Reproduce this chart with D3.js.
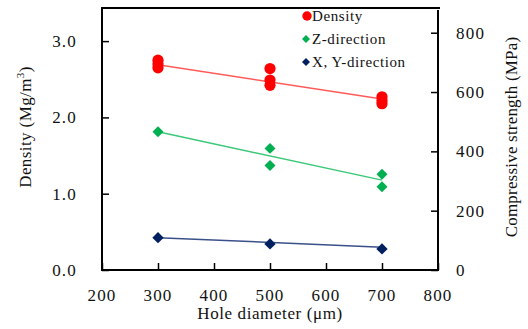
<!DOCTYPE html>
<html><head><meta charset="utf-8">
<script src="https://cdnjs.cloudflare.com/ajax/libs/d3/7.8.5/d3.min.js"></script>
<style>body{margin:0;background:#fff}svg{display:block}text{font-family:"Liberation Serif","Times New Roman",serif;fill:#111}</style>
</head><body><svg id="c" width="528" height="329"></svg>
<script>
// Data
const holeDiameters = [300, 500, 700];
const densityPts = [[300,2.75],[300,2.70],[300,2.65],[500,2.64],[500,2.49],[500,2.42],[700,2.27],[700,2.22],[700,2.18]];
const zDirPts = [[300,466],[500,410],[500,352],[700,323],[700,281]];
const xyDirPts = [[300,109],[500,88],[700,71]];
const densityFit = [[300,2.69],[700,2.24]];
const zDirFit = [[300,466],[700,303]];
const xyDirFit = [[300,109],[700,77]];
const xTicks = [200,300,400,500,600,700,800];
const yLeftTicks = [0,1,2,3];
const yRightTicks = [0,200,400,600,800];
const legendLabels = ["Density","Z-direction","X, Y-direction"];

const svg = d3.select("#c");
const L=102,R=438,T=8,B=270;
const x = d3.scaleLinear().domain([200,800]).range([L,R]);
const yL = d3.scaleLinear().domain([0,3.434]).range([B,T]);
const yR = d3.scaleLinear().domain([0,883.3]).range([B,T]);

const red="#ff0000", green="#00b050", navy="#002060";
const redL="#ff5a5a", greenL="#3cc878", navyL="#3a5088";

// axes with inward ticks
const ax = svg.append("g").attr("transform",`translate(0,${B})`).call(d3.axisTop(x).tickValues(xTicks).tickSize(7).tickFormat(""));
const ayl = svg.append("g").attr("transform",`translate(${L},0)`).call(d3.axisRight(yL).tickValues(yLeftTicks).tickSize(7).tickFormat(""));
const ayr = svg.append("g").attr("transform",`translate(${R},0)`).call(d3.axisLeft(yR).tickValues(yRightTicks).tickSize(7).tickFormat(""));
[ax,ayl,ayr].forEach(g=>{g.selectAll(".domain").remove();g.selectAll("line").attr("stroke","#000").attr("stroke-width",1.5);});

// frame
svg.append("line").attr("x1",L-1).attr("x2",R+2).attr("y1",T).attr("y2",T).attr("stroke","#000").attr("stroke-width",2);
svg.append("line").attr("x1",L).attr("x2",L).attr("y1",T).attr("y2",B+1).attr("stroke","#000").attr("stroke-width",2);
svg.append("line").attr("x1",R).attr("x2",R).attr("y1",T+2).attr("y2",B+1).attr("stroke","#000").attr("stroke-width",2);
svg.append("line").attr("x1",L-1).attr("x2",R+1).attr("y1",B).attr("y2",B).attr("stroke","#000").attr("stroke-width",2);

// tick labels
const fs=17;
svg.append("g").selectAll("text").data(xTicks).join("text")
  .attr("x",d=>x(d)).attr("y",301).attr("text-anchor","middle").attr("font-size",fs).attr("letter-spacing",1.2).text(d=>d);
svg.append("g").selectAll("text").data(yLeftTicks).join("text")
  .attr("x",77).attr("y",d=>yL(d)+6).attr("text-anchor","end").attr("font-size",fs).attr("letter-spacing",1.2).text(d=>d.toFixed(1));
svg.append("g").selectAll("text").data(yRightTicks).join("text")
  .attr("x",456).attr("y",d=>yR(d)+6).attr("text-anchor","start").attr("font-size",fs).attr("letter-spacing",1.2).text(d=>d);

// titles
svg.append("text").attr("x",270).attr("y",319).attr("text-anchor","middle").attr("font-size",17).attr("letter-spacing",0.6).text("Hole diameter (μm)");
const tl = svg.append("text").attr("transform","translate(31,127) rotate(-90)").attr("text-anchor","middle").attr("font-size",17).attr("letter-spacing",0.4);
tl.append("tspan").text("Density (Mg/m");
tl.append("tspan").attr("font-size",11).attr("dy",-7).text("3");
tl.append("tspan").attr("dy",7).text(")");
svg.append("text").attr("transform","translate(517,137) rotate(-90)").attr("text-anchor","middle").attr("font-size",17).attr("letter-spacing",0.2).text("Compressive strength (MPa)");

// fit lines
const lineL = d3.line().x(d=>x(d[0])).y(d=>yL(d[1]));
const lineR = d3.line().x(d=>x(d[0])).y(d=>yR(d[1]));
svg.append("path").attr("d",lineL(densityFit)).attr("stroke",redL).attr("stroke-width",1.5).attr("fill","none");
svg.append("path").attr("d",lineR(zDirFit)).attr("stroke",greenL).attr("stroke-width",1.5).attr("fill","none");
svg.append("path").attr("d",lineR(xyDirFit)).attr("stroke",navyL).attr("stroke-width",1.5).attr("fill","none");

// markers
svg.append("g").selectAll("circle").data(densityPts).join("circle")
  .attr("cx",d=>x(d[0])).attr("cy",d=>yL(d[1])).attr("r",5.6).attr("fill",red);
svg.append("g").selectAll("path").data(zDirPts).join("path")
  .attr("transform",d=>`translate(${x(d[0])},${yR(d[1])}) rotate(45)`).attr("d",d3.symbol().type(d3.symbolSquare).size(60)()).attr("fill",green);
svg.append("g").selectAll("path").data(xyDirPts).join("path")
  .attr("transform",d=>`translate(${x(d[0])},${yR(d[1])}) rotate(45)`).attr("d",d3.symbol().type(d3.symbolSquare).size(64)()).attr("fill",navy);

// legend
const lg = svg.append("g");
const ly=[16,39,62];
lg.append("circle").attr("cx",307).attr("cy",ly[0]).attr("r",4.7).attr("fill",red);
lg.append("path").attr("transform",`translate(306,${ly[1]}) rotate(45)`).attr("d",d3.symbol().type(d3.symbolSquare).size(32)()).attr("fill",green);
lg.append("path").attr("transform",`translate(306,${ly[2]}) rotate(45)`).attr("d",d3.symbol().type(d3.symbolSquare).size(32)()).attr("fill",navy);
lg.selectAll("text").data(legendLabels).join("text")
  .attr("x",312).attr("y",(d,i)=>ly[i]+5).attr("font-size",15).attr("letter-spacing",0.6).text(d=>d);
</script></body></html>
